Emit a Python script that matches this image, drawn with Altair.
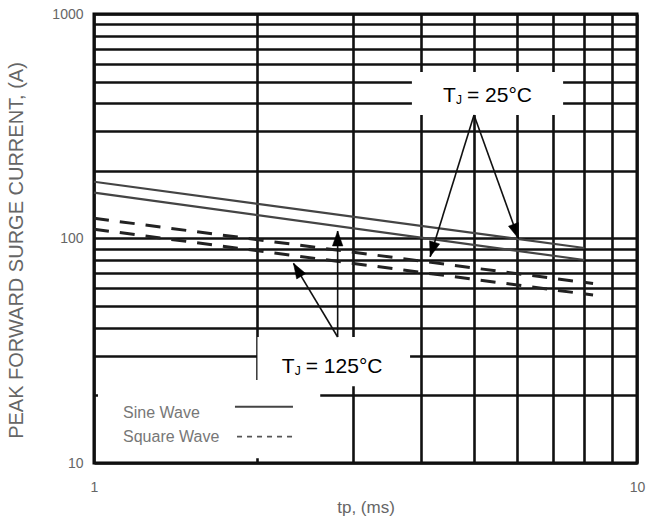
import math
import altair as alt
import pandas as pd

# ---------------- data ----------------
tp_sine = [1.0, 8.0]
sine_25c = [179, 90.7]
sine_125c = [160, 80.2]

tp_square = [1.0, 8.3]
square_25c = [123, 63]
square_125c = [110, 56]

x_grid = [1, 2, 3, 4, 5, 6, 7, 8, 9, 10]
y_grid = [10, 20, 30, 40, 50, 60, 70, 80, 90,
          100, 200, 300, 400, 500, 600, 700, 800, 900, 1000]
x_labels = [1, 10]
y_labels = [10, 100, 1000]

# annotation boxes (data coordinates)
box_x0 = [3.85, 2.0, 1.017]
box_x1 = [7.31, 3.82, 2.61]
box_y0 = [355, 22.0, 10.5]
box_y1 = [552, 36.4, 23.4]

# arrows: origin -> tip (data coordinates)
arrow_x0 = [5.01, 5.01, 2.81, 2.81]
arrow_y0 = [355, 355, 36.4, 36.4]
arrow_x1 = [4.16, 6.05, 2.81, 2.33]
arrow_y1 = [83, 100, 108, 77.5]

# temperature labels
tj_x = [4.393, 2.217]
tj_y = [404.3, 25.09]
tj_rest = ["= 25°C", "= 125°C"]

# legend
legend_text = ["Sine Wave", "Square Wave"]
legend_text_x = [1.131, 1.131]
legend_text_y = [16.7, 13.06]
legend_line_x0 = [1.818, 1.834]
legend_line_x1 = [2.325, 2.365]
legend_line_y = [17.81, 13.1]

# ---------------- layout ----------------
W, H = 543, 449
FONT = "Liberation Sans"

xs = alt.Scale(type="log", domain=[1, 10], nice=False)
ys = alt.Scale(type="log", domain=[10, 1000], nice=False)

rows = []
for t, v in zip(tp_sine, sine_25c):
    rows.append(dict(tp=t, cur=v, wave="Sine", temp="25"))
for t, v in zip(tp_sine, sine_125c):
    rows.append(dict(tp=t, cur=v, wave="Sine", temp="125"))
for t, v in zip(tp_square, square_25c):
    rows.append(dict(tp=t, cur=v, wave="Square", temp="25"))
for t, v in zip(tp_square, square_125c):
    rows.append(dict(tp=t, cur=v, wave="Square", temp="125"))
curves = pd.DataFrame(rows)

x_enc = alt.X("tp:Q", scale=xs, axis=alt.Axis(
    values=x_grid, grid=True, gridColor="#111", gridWidth=2.6, ticks=False, domain=False,
    labelExpr="indexof([" + ",".join(str(v) for v in x_labels) + "], datum.value) >= 0 ? datum.label : ''",
    format="d", labelOverlap=False, labelFlush=False, labelPadding=17,
    labelColor="#666", labelFontSize=14, labelFont=FONT,
    title="tp, (ms)", titleColor="#666", titleFontSize=17, titleFontWeight="normal",
    titleFont=FONT, titleY=44, titleBaseline="middle"))
y_enc = alt.Y("cur:Q", scale=ys, axis=alt.Axis(
    values=y_grid, grid=True, gridColor="#111", gridWidth=2.6, ticks=False, domain=False,
    labelExpr="indexof([" + ",".join(str(v) for v in y_labels) + "], datum.value) >= 0 ? datum.label : ''",
    format="d", labelOverlap=False, labelFlush=False, labelPadding=11,
    labelColor="#666", labelFontSize=14, labelFont=FONT,
    title="PEAK FORWARD SURGE CURRENT, (A)", titleColor="#666", titleFontSize=20,
    titleFontWeight="normal", titleFont=FONT, titleAngle=270, titleX=-78, titleY=236,
    titleBaseline="middle", titleAlign="center"))

sine_df = curves[curves.wave == "Sine"]
square_df = curves[curves.wave == "Square"]

sine_layer = alt.Chart(sine_df).mark_line(color="#444", strokeWidth=2.2).encode(
    x=x_enc, y=y_enc, detail="temp:N")
square_layer = alt.Chart(square_df).mark_line(
    color="#222", strokeWidth=3, strokeDash=[15, 11]).encode(
    x=alt.X("tp:Q", scale=xs), y=alt.Y("cur:Q", scale=ys), detail="temp:N")

boxes = pd.DataFrame(dict(x0=box_x0, x1=box_x1, y0=box_y0, y1=box_y1))
box_layer = alt.Chart(boxes).mark_rect(fill="white", stroke=None).encode(
    x=alt.X("x0:Q", scale=xs), x2="x1:Q", y=alt.Y("y0:Q", scale=ys), y2="y1:Q")

arrows = pd.DataFrame(dict(x0=arrow_x0, y0=arrow_y0, x1=arrow_x1, y1=arrow_y1))
arrow_layer = alt.Chart(arrows).mark_rule(color="#111", strokeWidth=1.6).encode(
    x=alt.X("x0:Q", scale=xs), x2="x1:Q", y=alt.Y("y0:Q", scale=ys), y2="y1:Q")


def to_px(x, y):
    return W * math.log10(x), H * (1 - (math.log10(y) - 1) / 2)


def to_data(px, py):
    return 10 ** (px / W), 10 ** (1 + 2 * (1 - py / H))


HEAD = 7.5
heads = []
for a, b, c, d in zip(arrow_x0, arrow_y0, arrow_x1, arrow_y1):
    p0 = to_px(a, b)
    p1 = to_px(c, d)
    dx, dy = p1[0] - p0[0], p1[1] - p0[1]
    L = math.hypot(dx, dy)
    ux, uy = dx / L, dy / L
    cx, cy = p1[0] - ux * HEAD, p1[1] - uy * HEAD
    hx, hy = to_data(cx, cy)
    ang = math.degrees(math.atan2(dx, -dy)) % 360
    heads.append(dict(hx=hx, hy=hy, ang=ang))
heads = pd.DataFrame(heads)
head_layers = [
    alt.Chart(heads.iloc[[i]]).mark_point(
        shape="M0,-1L0.7,1L-0.7,1Z", filled=True, fill="#000", stroke="#000", strokeWidth=0.5,
        size=(2 * HEAD) ** 2, opacity=1, angle=float(r.ang)).encode(
        x=alt.X("hx:Q", scale=xs), y=alt.Y("hy:Q", scale=ys))
    for i, r in heads.iterrows()
]

tj = pd.DataFrame(dict(x=tj_x, y=tj_y, rest=tj_rest))
t_layer = alt.Chart(tj).mark_text(
    text="T", align="left", baseline="alphabetic", font=FONT, fontSize=21, color="#000").encode(
    x=alt.X("x:Q", scale=xs), y=alt.Y("y:Q", scale=ys))
j_layer = alt.Chart(tj).mark_text(
    text="J", align="left", baseline="alphabetic", font=FONT, fontSize=12, color="#000",
    dx=13, dy=2).encode(x=alt.X("x:Q", scale=xs), y=alt.Y("y:Q", scale=ys))
rest_layer = alt.Chart(tj).mark_text(
    align="left", baseline="alphabetic", font=FONT, fontSize=21, color="#000", dx=24).encode(
    x=alt.X("x:Q", scale=xs), y=alt.Y("y:Q", scale=ys), text="rest:N")

leg_t = pd.DataFrame(dict(x=legend_text_x, y=legend_text_y, t=legend_text))
leg_text_layer = alt.Chart(leg_t).mark_text(
    align="left", baseline="middle", font=FONT, fontSize=16, color="#777").encode(
    x=alt.X("x:Q", scale=xs), y=alt.Y("y:Q", scale=ys), text="t:N")
leg_solid = alt.Chart(pd.DataFrame(dict(
    x0=[legend_line_x0[0]], x1=[legend_line_x1[0]], y=[legend_line_y[0]]))).mark_rule(
    color="#444", strokeWidth=2.2).encode(
    x=alt.X("x0:Q", scale=xs), x2="x1:Q", y=alt.Y("y:Q", scale=ys))
leg_dash = alt.Chart(pd.DataFrame(dict(
    x0=[legend_line_x0[1]], x1=[legend_line_x1[1]], y=[legend_line_y[1]]))).mark_rule(
    color="#555", strokeWidth=1.6, strokeDash=[5, 5]).encode(
    x=alt.X("x0:Q", scale=xs), x2="x1:Q", y=alt.Y("y:Q", scale=ys))

chart = alt.layer(
    sine_layer, box_layer, square_layer, arrow_layer, *head_layers,
    t_layer, j_layer, rest_layer, leg_text_layer, leg_solid, leg_dash
).properties(
    width=W, height=H,
    autosize=alt.AutoSizeParams(type="none"),
    padding={"left": 94, "top": 14, "right": 28, "bottom": 58},
    background="white",
).configure_view(stroke="#000", strokeWidth=3)

chart.save("out.html", embed_options={"renderer": "svg", "actions": False})
